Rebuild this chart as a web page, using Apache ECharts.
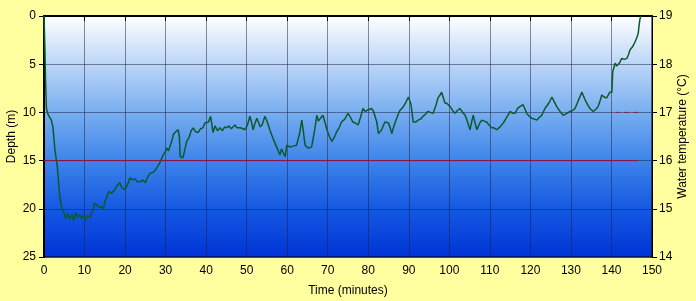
<!DOCTYPE html>
<html>
<head>
<meta charset="utf-8">
<script src="https://cdn.jsdelivr.net/npm/echarts@6/dist/echarts.min.js"></script>
<style>html,body{margin:0;padding:0;background:#FFFFA0;}#c{width:696px;height:301px;}</style>
</head>
<body>
<div id="c"></div>
<script>
// Time (minutes) and depth (m) read from the dive profile
const depthTime = [0,0.2,0.4,0.6,1.0,1.4,1.8,2.2,2.7,3.3,3.9,4.4,5.0,5.3,5.8,6.3,6.8,7.3,7.8,8.3,8.8,9.3,9.8,10.3,10.8,11.3,11.8,12.1,12.5,13.0,13.6,14.2,14.6,15.0,15.5,16.0,16.3,16.7,17.0,17.5,18.0,18.7,19.2,20.0,20.6,21.2,21.8,22.5,23.0,23.7,24.3,25.0,25.5,26.2,27.0,27.6,28.6,29.0,29.4,29.9,30.3,30.7,31.1,31.5,31.9,32.5,33.1,33.4,33.6,34.3,34.7,35.2,35.8,36.3,36.8,37.4,38.0,38.6,39.2,39.7,40.1,40.6,41.1,41.4,41.7,42.2,42.8,43.4,44.0,44.6,45.1,45.6,46.2,47.1,47.6,48.4,49.1,49.6,50.2,50.8,51.2,51.6,52.0,52.5,53.0,53.3,53.8,54.5,55.0,55.7,56.5,57.4,58.2,58.6,59.0,59.5,59.9,60.7,61.5,62.3,63.0,63.6,64.0,64.4,65.2,66.0,66.5,66.9,67.3,67.7,68.1,68.8,69.3,69.8,70.4,71.0,71.6,72.2,72.8,73.4,74.2,75.0,75.6,76.2,76.8,77.5,78.1,78.7,79.2,79.6,80.2,80.8,81.3,81.7,82.1,82.5,83.3,84.1,85.0,85.4,85.8,86.2,86.6,87.2,87.8,88.5,89.1,89.5,89.9,90.5,91.1,91.7,92.3,92.9,93.5,94.1,94.7,95.3,96.0,96.6,97.2,97.7,98.1,98.9,99.5,100.2,100.8,101.4,102.0,102.6,103.3,103.9,104.5,105.1,105.5,105.9,106.4,106.8,107.4,108.0,108.6,109.2,109.8,110.4,111.0,111.7,112.5,113.3,114.2,115.0,115.6,116.2,116.8,117.4,118.2,118.6,119.1,119.7,120.3,121.0,121.6,122.2,122.8,123.6,124.0,124.6,125.3,125.9,126.5,127.3,128.1,129.0,129.8,130.4,131.0,131.8,132.7,133.1,133.5,134.1,134.7,135.1,135.5,136.1,136.7,137.2,137.6,138.2,138.8,139.2,139.6,140.1,140.3,140.9,141.3,141.7,142.1,142.5,143.2,143.8,144.2,144.6,145.2,145.8,146.2,146.6,146.8,147.0,147.2];
const depthValues = [0,3,7,9.6,10.2,10.0,10.8,11.5,13.9,15.7,18.8,19.9,20.5,21.0,20.5,21.1,20.6,21.2,20.4,20.9,20.6,21.0,20.6,21.2,20.7,20.9,20.4,20.1,19.4,19.6,19.8,19.8,20.1,19.3,18.8,18.2,18.0,18.4,18.6,18.0,17.6,17.3,17.8,18.0,17.5,16.8,17.0,16.9,17.2,17.2,17.0,17.3,16.8,16.3,16.2,15.9,15.2,14.8,14.4,14.1,13.7,14.0,14.1,13.0,12.3,12.0,11.8,12.5,14.6,14.7,14.6,13.0,12.6,11.9,11.6,12.0,12.1,11.7,11.6,11.1,11.3,11.0,10.4,11.2,12.1,11.4,11.9,11.6,11.9,11.5,11.6,11.4,11.7,11.3,11.6,11.6,11.7,11.8,11.3,10.4,11.0,11.8,11.2,10.6,11.1,11.5,11.3,10.4,10.9,11.8,12.7,13.6,14.4,13.8,13.9,14.6,13.4,13.6,13.5,13.4,12.3,10.8,12.0,13.4,13.7,13.6,12.5,11.5,10.3,10.9,10.8,10.3,11.0,11.8,12.5,13.0,12.6,12.0,11.6,11.0,10.7,10.1,10.5,11.0,11.1,11.3,10.5,9.6,9.9,10.1,9.7,9.6,9.9,9.8,11.0,12.2,11.8,11.0,11.1,11.6,12.2,11.6,11.1,10.4,9.8,9.5,9.1,8.9,8.4,9.1,11.0,11.0,10.8,10.7,10.4,10.2,9.9,10.0,10.1,9.4,8.5,8.2,7.9,9.0,9.1,9.4,9.8,10.1,9.8,9.6,10.0,10.3,11.0,11.8,11.0,10.3,11.2,11.8,11.2,10.8,10.9,11.0,11.3,11.6,11.6,11.8,11.5,11.1,10.5,9.9,10.1,10.1,9.6,9.4,9.2,9.6,10.1,10.4,10.6,10.7,10.8,10.5,10.3,9.6,9.6,9.0,8.4,8.9,9.4,9.9,10.3,10.1,9.9,9.8,9.6,8.8,7.9,8.3,8.7,9.2,9.6,9.8,9.9,9.7,9.4,8.8,8.2,8.4,8.5,8.2,7.9,7.9,5.8,4.9,5.2,5.4,4.8,4.4,4.5,4.4,4.0,3.5,3.2,2.7,2.3,1.8,1.0,0.4,0];
// Water temperature (°C)
const tempTime = [0, 146.5];
const tempValues = [16, 16];
const tempTime2 = [141, 147.3];
const tempValues2 = [17, 17];
const xTicks = [0,10,20,30,40,50,60,70,80,90,100,110,120,130,140,150];

const zip = (a,b) => a.map((v,i)=>[v,b[i]]);
const chart = echarts.init(document.getElementById('c'), null, {renderer:'canvas'});
const font = 'Liberation Sans, Arial, sans-serif';
chart.setOption({
  backgroundColor: '#FFFFA0',
  animation: false,
  grid: {
    left: 44, right: 44, top: 16, bottom: 44, show: true,
    containLabel: false, outerBoundsMode: 'none',
    borderColor: '#000', borderWidth: 1,
    backgroundColor: new echarts.graphic.LinearGradient(0,0,0,1,[
      {offset:0, color:'#FFFFFF'},
      {offset:0.2, color:'#BCD6F7'},
      {offset:0.4, color:'#78AEF0'},
      {offset:0.6, color:'#3D84EA'},
      {offset:0.8, color:'#1558E2'},
      {offset:1, color:'#0033D6'}
    ])
  },
  xAxis: {
    type: 'value', min: 0, max: 150, interval: 10,
    name: 'Time (minutes)', nameLocation: 'middle', nameGap: 28, nameMoveOverlap: false,
    nameTextStyle: {fontFamily: font, fontSize: 12, color: '#000'},
    axisLine: {show: true, lineStyle: {color: '#000', width: 2}},
    axisTick: {show: true, length: 5, lineStyle: {color: '#000'}},
    axisLabel: {fontFamily: font, fontSize: 12, color: '#000', margin: 8},
    splitLine: {show: true, lineStyle: {color: 'rgba(30,30,60,0.5)', width: 1}}
  },
  yAxis: [{
    type: 'value', min: 0, max: 25, interval: 5, inverse: true,
    name: 'Depth (m)', nameLocation: 'middle', nameGap: 26, nameRotate: 90, nameMoveOverlap: false,
    nameTextStyle: {fontFamily: font, fontSize: 12, color: '#000'},
    axisLine: {show: true, lineStyle: {color: '#000', width: 2}},
    axisTick: {show: true, length: 5, lineStyle: {color: '#000'}},
    axisLabel: {fontFamily: font, fontSize: 12, color: '#000', margin: 8},
    splitLine: {show: true, lineStyle: {color: 'rgba(30,30,60,0.5)', width: 1}}
  }, {
    type: 'value', min: 14, max: 19, interval: 1, position: 'right',
    name: 'Water temperature (°C)', nameLocation: 'middle', nameGap: 25, nameRotate: 90, nameMoveOverlap: false,
    nameTextStyle: {fontFamily: font, fontSize: 12, color: '#000'},
    axisLine: {show: true, lineStyle: {color: '#000', width: 1}},
    axisTick: {show: true, length: 5, lineStyle: {color: '#000'}},
    axisLabel: {fontFamily: font, fontSize: 12, color: '#000', margin: 7},
    splitLine: {show: false}
  }],
  series: [{
    type: 'line', yAxisIndex: 1, data: zip(tempTime, tempValues),
    symbol: 'none', lineStyle: {color: '#9A1040', width: 1}, z: 3
  }, {
    type: 'line', yAxisIndex: 1, data: zip(tempTime2, tempValues2),
    symbol: 'none', lineStyle: {color: '#9A1040', width: 1, type: [4,5]}, z: 3
  }, {
    type: 'line', yAxisIndex: 0, data: zip(depthTime, depthValues),
    symbol: 'none', lineStyle: {color: '#0B5A2A', width: 1.5}, z: 4
  }]
});
</script>
</body>
</html>
